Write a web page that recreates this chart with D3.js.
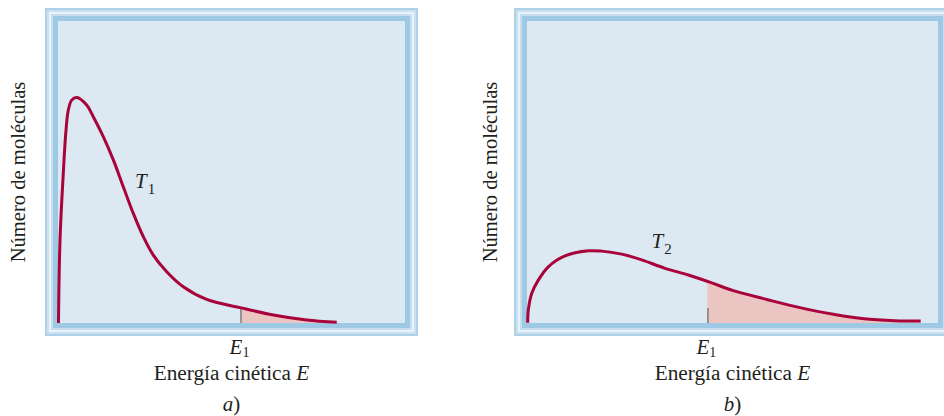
<!DOCTYPE html>
<html>
<head>
<meta charset="utf-8">
<script src="https://cdn.jsdelivr.net/npm/d3@7"></script>
<style>
  html, body { margin: 0; padding: 0; background: #ffffff; }
  svg { display: block; }
</style>
</head>
<body>
<svg id="chart" width="944" height="416"></svg>
<script>
// ---- data (energy in relative units 0-100 across each panel, count 0-100) ----
const energyA = [0.14, 0.58, 1.53, 2.31, 2.97, 3.95, 5.39, 8.27, 10.17, 13.05, 15.94, 18.82, 21.70, 24.58, 27.46, 31.33, 36.11, 42.85, 52.45, 62.05, 71.67, 80.32];
const countA  = [0, 27.5, 49.7, 63.9, 70.5, 73.8, 74.7, 72.2, 68.3, 61.7, 54.0, 45.1, 36.3, 28.6, 22.5, 17.0, 12.0, 7.8, 5.1, 2.65, 1.0, 0.25];
const energyB = [0.17, 0.32, 1.14, 2.75, 5.18, 9.25, 14.91, 18.18, 23.04, 27.91, 33.58, 39.25, 44.94, 50.19, 58.32, 66.42, 74.53, 82.65, 90.75, 95.79];
const countB  = [0.1, 4.3, 9.8, 14.2, 18.6, 22.2, 23.9, 23.8, 22.8, 20.9, 18.1, 15.9, 13.3, 10.7, 7.8, 5.1, 2.9, 1.3, 0.7, 0.7];
const thresholds = [52.6, 43.9];           // E1 in each panel
const tempLabels = ["1", "2"];             // T subscripts
const tempLabelEnergy = [22.2, 30.3];      // where the T labels sit (data units)
const tempLabelCount = [44.7, 24.7];
const panelLetters = ["a", "b"];
const yLabel = "Número de moléculas";
const xLabel = "Energía cinética ";
const xLabelVar = "E";
const thresholdName = "E";
const thresholdSub = "1";

const FONT = "'Liberation Serif', 'Times New Roman', Times, serif";
const svg = d3.select("#chart");

const panels = [
  { energy: energyA, count: countA, e1: thresholds[0], tSub: tempLabels[0], letter: panelLetters[0],
    tE: tempLabelEnergy[0], tC: tempLabelCount[0],
    inner: { x0: 58, x1: 405, y0: 21, y1: 323 }, yLabX: 25 },
  { energy: energyB, count: countB, e1: thresholds[1], tSub: tempLabels[1], letter: panelLetters[1],
    tE: tempLabelEnergy[1], tC: tempLabelCount[1],
    inner: { x0: 527, x1: 938, y0: 21, y1: 323 }, yLabX: 497 }
];

const frameBands = [
  { off: 13, color: "#add1e8" },
  { off: 11, color: "#c9e1f1" },
  { off: 9,  color: "#e9f3f9" },
  { off: 7,  color: "#c6dff0" },
  { off: 5,  color: "#9ec9e5" },
  { off: 0,  color: "#dce8f2" }
];

const defs = svg.append("defs");

function txt(sel) {
  return sel.attr("font-family", FONT).attr("fill", "#231f20");
}

panels.forEach((p, i) => {
  const g = svg.append("g");
  const r = p.inner;
  const x = d3.scaleLinear().domain([0, 100]).range([r.x0, r.x1]);
  const y = d3.scaleLinear().domain([0, 100]).range([r.y1, r.y0]);

  // frame
  frameBands.forEach(b => {
    g.append("rect")
      .attr("x", r.x0 - b.off).attr("y", r.y0 - b.off)
      .attr("width", r.x1 - r.x0 + 2 * b.off)
      .attr("height", r.y1 - r.y0 + 2 * b.off)
      .attr("fill", b.color);
  });

  const data = p.energy.map((e, k) => ({ e, c: p.count[k] }));
  const curve = d3.curveCatmullRom.alpha(0.5);

  // shaded area beyond E1
  const clipId = "clip" + i;
  defs.append("clipPath").attr("id", clipId)
    .append("rect")
    .attr("x", x(p.e1)).attr("y", r.y0)
    .attr("width", r.x1 - x(p.e1)).attr("height", r.y1 - r.y0);

  const area = d3.area().x(d => x(d.e)).y0(y(0)).y1(d => y(d.c)).curve(curve);
  g.append("path").datum(data)
    .attr("d", area)
    .attr("fill", "#ebc5c1")
    .attr("clip-path", `url(#${clipId})`);

  // E1 tick via axis
  const axis = d3.axisBottom(x).tickValues([p.e1]).tickSizeInner(-15).tickSizeOuter(0).tickFormat("");
  const ax = g.append("g").attr("transform", `translate(0,${r.y1})`).call(axis);
  ax.select(".domain").remove();
  ax.selectAll(".tick line").attr("stroke", "#7d7d7d").attr("stroke-width", 1.5);

  // curve
  const line = d3.line().x(d => x(d.e)).y(d => y(d.c)).curve(curve);
  g.append("path").datum(data)
    .attr("d", line)
    .attr("fill", "none")
    .attr("stroke", "#a8033b")
    .attr("stroke-width", 3);

  // T label
  const tl = txt(g.append("text")).attr("x", x(p.tE)).attr("y", y(p.tC)).attr("font-size", 21);
  tl.append("tspan").attr("font-style", "italic").text("T");
  tl.append("tspan").attr("font-size", 15).attr("dx", 1).attr("dy", 6).text(p.tSub);

  // E1 label
  const el = txt(g.append("text")).attr("x", x(p.e1) - 1).attr("y", 354)
    .attr("text-anchor", "middle").attr("font-size", 21);
  el.append("tspan").attr("font-style", "italic").text(thresholdName);
  el.append("tspan").attr("font-size", 14).attr("dy", 3).text(thresholdSub);

  // x label
  const cx = (r.x0 + r.x1) / 2;
  const xl = txt(g.append("text")).attr("x", cx).attr("y", 380)
    .attr("text-anchor", "middle").attr("font-size", 21.3);
  xl.append("tspan").text(xLabel);
  xl.append("tspan").attr("font-style", "italic").text(xLabelVar);

  // panel letter
  const pl = txt(g.append("text")).attr("x", cx).attr("y", 411)
    .attr("text-anchor", "middle").attr("font-size", 21);
  pl.append("tspan").attr("font-style", "italic").text(p.letter);
  pl.append("tspan").text(")");

  // y label
  const cy = (r.y0 + r.y1) / 2;
  txt(g.append("text"))
    .attr("transform", `translate(${p.yLabX},${cy}) rotate(-90)`)
    .attr("text-anchor", "middle").attr("font-size", 20.6)
    .text(yLabel);
});
</script>
</body>
</html>
